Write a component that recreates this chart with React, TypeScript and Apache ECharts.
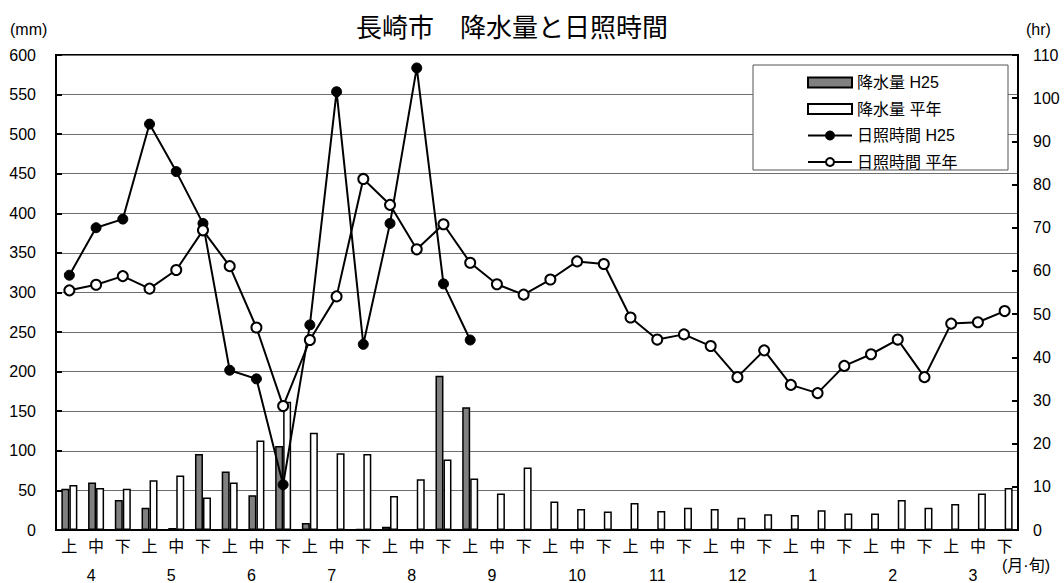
import React, { useEffect, useRef } from "react";
import * as echarts from "echarts";

const decades = ["上", "中", "下"];
const months = ["4", "5", "6", "7", "8", "9", "10", "11", "12", "1", "2", "3"];
const categories: string[] = [];
const monthRow: string[] = [];
months.forEach((m) => {
  decades.forEach((d, j) => {
    categories.push(d);
    monthRow.push(j === 1 ? m : "");
  });
});

const precipH25 = [52, 60, 38, 28, 2.5, 96, 74, 44, 106, 9, 0, 1.5, 4, 0, 195, 155,
  null, null, null, null, null, null, null, null, null, null, null, null, null, null, null, null, null, null, null, null];
const precipNormal = [57, 53, 52, 63, 69, 41, 60, 113, 162, 123, 97, 96, 43, 64, 89, 65,
  46, 79, 36, 26.5, 23.5, 34, 24, 28, 26.5, 15.5, 20, 19, 25, 21, 21, 38, 28, 33, 46, 53];
const sunH25 = [59, 70, 72, 94, 83, 71, 37, 35, 10.5, 47.5, 101.5, 43, 71, 107, 57, 44,
  null, null, null, null, null, null, null, null, null, null, null, null, null, null, null, null, null, null, null, null];
const sunNormal = [55.5, 56.8, 58.8, 55.9, 60.2, 69.4, 61.1, 46.9, 28.7, 44.0, 54.1, 81.3, 75.3, 65.0, 70.8, 61.9,
  56.9, 54.5, 58.0, 62.2, 61.6, 49.2, 44.1, 45.3, 42.6, 35.4, 41.6, 33.6, 31.7, 38.0, 40.7, 44.1, 35.4, 47.8, 48.1, 50.7];

const seriesNames = ["降水量 H25", "降水量 平年", "日照時間 H25", "日照時間 平年"];

const FONT = "'Liberation Sans', 'Noto Sans CJK JP', sans-serif";

export default function App() {
  const ref = useRef<HTMLDivElement>(null);
  useEffect(() => {
    if (!ref.current) return;
    const chart = echarts.init(ref.current, null, { renderer: "svg" });
    chart.setOption({
      animation: false,
      backgroundColor: "#fff",
      textStyle: { fontFamily: FONT, color: "#000" },
      title: {
        text: "長崎市　降水量と日照時間",
        left: 507,
        textAlign: "center",
        top: 7,
        textStyle: { fontFamily: "'Noto Sans CJK JP', sans-serif", fontSize: 26, fontWeight: "normal", color: "#000" },
      },
      grid: {
        left: 56,
        right: 46,
        top: 55,
        bottom: 52,
        show: true,
        borderColor: "#000",
        borderWidth: 2,
        backgroundColor: "transparent",
      },
      legend: {
        orient: "vertical",
        left: 802,
        top: 69,
        itemWidth: 44,
        itemHeight: 10,
        itemGap: 9.5,
        z: 10,
        textStyle: { fontFamily: FONT, fontSize: 16, color: "#000", lineHeight: 17 },
        data: [
          { name: seriesNames[0], icon: "rect" },
          { name: seriesNames[1], icon: "rect" },
          { name: seriesNames[2] },
          { name: seriesNames[3] },
        ],
      },
      graphic: [
        {
          type: "rect",
          z: 3,
          shape: { x: 753, y: 65, width: 255, height: 105 },
          style: { fill: "#fff", stroke: "#555", lineWidth: 1 },
        },
        {
          type: "text",
          left: 10,
          top: 21,
          style: { text: "(mm)", fontFamily: FONT, fontSize: 16, fill: "#000" },
        },
        {
          type: "text",
          left: 1026,
          top: 21,
          style: { text: "(hr)", fontFamily: FONT, fontSize: 16, fill: "#000" },
        },
        {
          type: "text",
          left: 1002,
          top: 557,
          style: { text: "(月·旬)", fontFamily: FONT, fontSize: 16, fill: "#000" },
        },
      ],
      xAxis: [
        {
          type: "category",
          data: categories,
          boundaryGap: true,
          axisLine: { lineStyle: { color: "#000", width: 2 } },
          axisTick: { show: false },
          axisLabel: { interval: 0, margin: 8, fontSize: 16, color: "#000", fontFamily: FONT },
        },
        {
          type: "category",
          data: monthRow,
          position: "bottom",
          boundaryGap: true,
          axisLine: { show: false },
          axisTick: { show: false },
          axisLabel: {
            interval: 0,
            margin: 37,
            fontSize: 16,
            color: "#000",
            fontFamily: FONT,
            formatter: (v: string) => (v ? (v.length === 1 ? `{a|${v}}` : v) : ""),
            rich: { a: { fontSize: 16, fontFamily: FONT, color: "#000", padding: [0, 10, 0, 0] } },
          },
        },
      ],
      yAxis: [
        {
          type: "value",
          min: 0,
          max: 600,
          interval: 50,
          axisLine: { show: true, lineStyle: { color: "#000", width: 2 } },
          axisTick: { show: true, inside: true, length: 6, lineStyle: { color: "#000", width: 2 } },
          axisLabel: { margin: 20, fontSize: 16, color: "#000", fontFamily: FONT },
          splitLine: { show: true, lineStyle: { color: "#6e6e6e", width: 1 } },
        },
        {
          type: "value",
          min: 0,
          max: 110,
          interval: 10,
          position: "right",
          axisLine: { show: true, lineStyle: { color: "#000", width: 2 } },
          axisTick: { show: true, inside: true, length: 6, lineStyle: { color: "#000", width: 2 } },
          axisLabel: { margin: 15, fontSize: 16, color: "#000", fontFamily: FONT },
          splitLine: { show: false },
        },
      ],
      series: [
        {
          name: seriesNames[0],
          type: "bar",
          xAxisIndex: 0,
          yAxisIndex: 0,
          data: precipH25,
          barWidth: 8,
          barGap: "0%",
          itemStyle: { color: "#808080", borderColor: "#000", borderWidth: 1.5 },
        },
        {
          name: seriesNames[1],
          type: "bar",
          xAxisIndex: 0,
          yAxisIndex: 0,
          data: precipNormal,
          barWidth: 8,
          barGap: "0%",
          itemStyle: { color: "#fff", borderColor: "#000", borderWidth: 1.5 },
        },
        {
          name: seriesNames[2],
          type: "line",
          xAxisIndex: 0,
          yAxisIndex: 1,
          data: sunH25,
          symbol: "circle",
          symbolSize: 10,
          z: 4,
          lineStyle: { color: "#000", width: 2 },
          itemStyle: { color: "#000", borderColor: "#000", borderWidth: 1 },
        },
        {
          name: seriesNames[3],
          type: "line",
          xAxisIndex: 0,
          yAxisIndex: 1,
          data: sunNormal,
          symbol: "circle",
          symbolSize: 10,
          z: 5,
          lineStyle: { color: "#000", width: 2 },
          itemStyle: { color: "#fff", borderColor: "#000", borderWidth: 2 },
        },
      ],
    });
    return () => chart.dispose();
  }, []);
  return (
    <div
      ref={ref}
      style={{ position: "fixed", left: 0, top: 0, width: 1064, height: 583, background: "#fff" }}
    />
  );
}
